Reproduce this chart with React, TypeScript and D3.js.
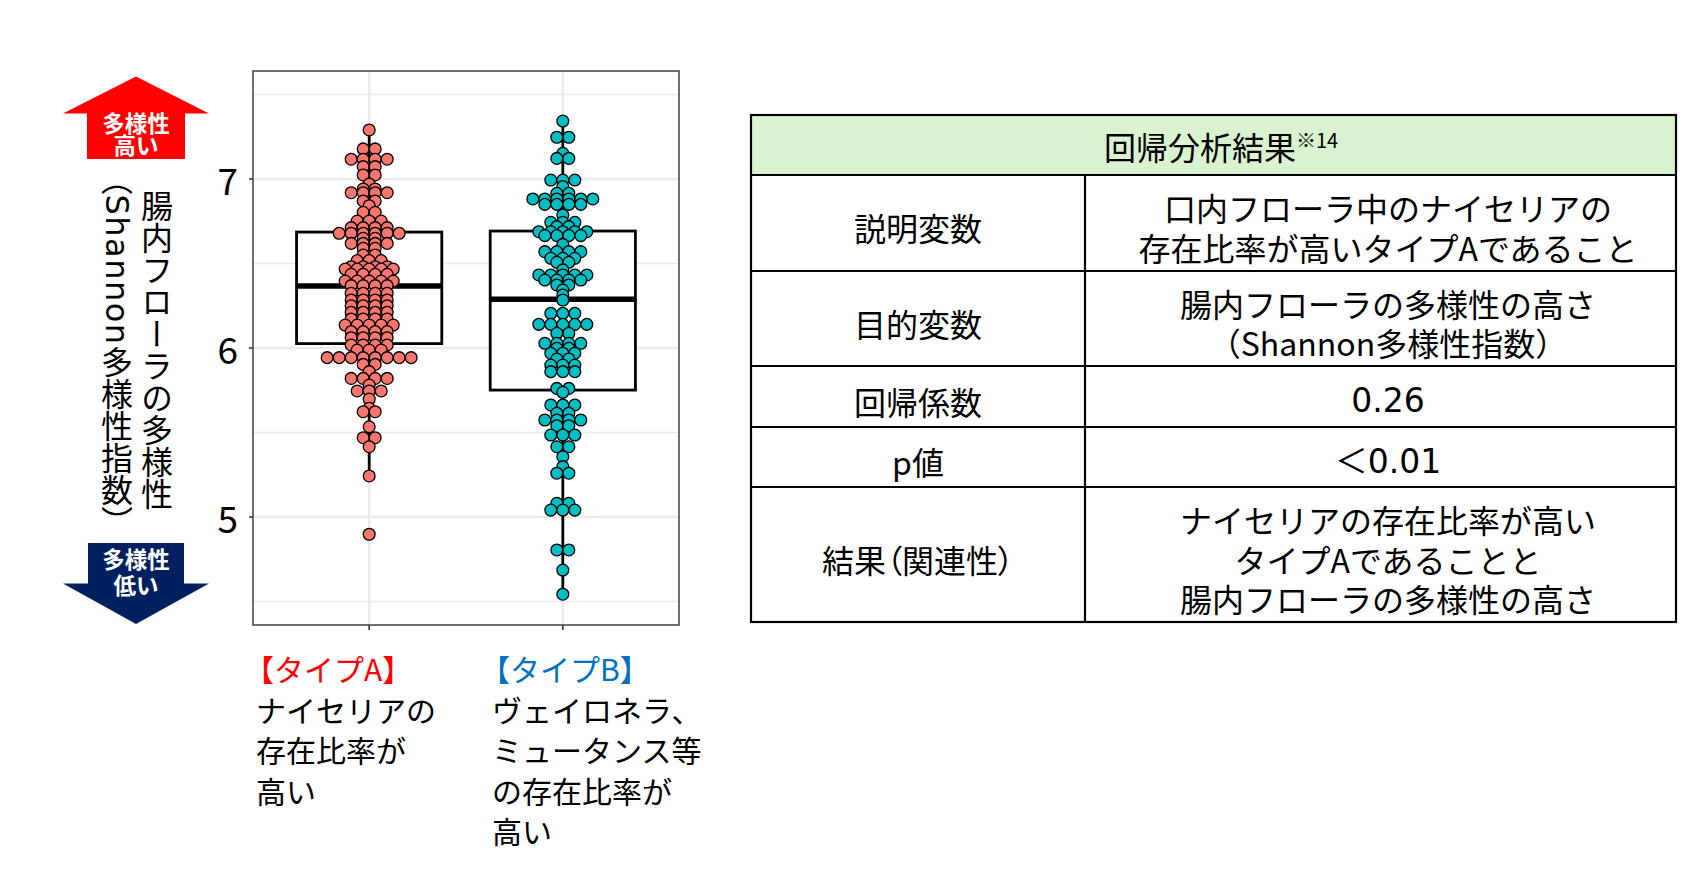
import React from 'react';
import * as d3 from 'd3';

// ---------- data ----------
const categories = ['タイプA', 'タイプB'];

// dot-plot bins (value, number of stacked dots)
const binValuesA = [7.290, 7.178, 7.117, 7.073, 7.024, 6.970, 6.941, 6.919, 6.870, 6.842, 6.803, 6.751, 6.712, 6.679, 6.649, 6.619, 6.590, 6.550, 6.517, 6.481, 6.467, 6.436, 6.396, 6.369, 6.324, 6.284, 6.250, 6.211, 6.172, 6.136, 6.097, 6.061, 6.018, 5.988, 5.943, 5.903, 5.860, 5.820, 5.781, 5.746, 5.698, 5.643, 5.623, 5.534, 5.469, 5.416, 5.243, 4.898];
const binCountsA = [1, 2, 4, 2, 2, 1, 2, 4, 2, 1, 2, 3, 4, 6, 2, 4, 2, 2, 3, 4, 5, 4, 5, 4, 4, 4, 4, 4, 4, 5, 4, 4, 4, 3, 8, 2, 1, 4, 1, 3, 1, 1, 2, 1, 2, 1, 1, 1];

const binValuesB = [7.343, 7.247, 7.152, 7.122, 6.994, 6.955, 6.915, 6.882, 6.850, 6.787, 6.744, 6.718, 6.688, 6.665, 6.613, 6.570, 6.531, 6.507, 6.462, 6.432, 6.402, 6.373, 6.343, 6.314, 6.284, 6.205, 6.140, 6.087, 6.028, 5.998, 5.969, 5.935, 5.899, 5.860, 5.761, 5.738, 5.663, 5.614, 5.574, 5.540, 5.485, 5.416, 5.357, 5.298, 5.259, 5.081, 5.041, 4.805, 4.686, 4.543];
const binCountsB = [1, 2, 1, 2, 3, 1, 2, 6, 4, 1, 3, 2, 5, 4, 1, 4, 3, 2, 1, 5, 4, 2, 1, 1, 1, 3, 5, 2, 4, 2, 3, 2, 3, 3, 2, 1, 3, 2, 4, 2, 3, 2, 1, 1, 2, 2, 3, 2, 1, 1];

// box statistics: [lower whisker, Q1, median, Q3, upper whisker]
const boxStatsA = [5.243, 6.026, 6.367, 6.686, 7.290];
const boxStatsB = [4.543, 5.751, 6.288, 6.692, 7.343];

const yTicks = [5, 6, 7];
const yMinorTicks = [4.5, 5.5, 6.5, 7.5];
const yDomain = [4.361, 7.639];
const binWidth = 0.071;

const groupColors = ['#F8766D', '#00BFC4'];

const axisTitleMain = '腸内フローラの多様性';
const axisTitleSub = ['（', 'Shannon', '多様性指数）'];
const arrowUpText = ['多様性', '高い'];
const arrowDownText = ['多様性', '低い'];

const labelA = ['【タイプA】', 'ナイセリアの', '存在比率が', '高い'];
const labelB = ['【タイプB】', 'ヴェイロネラ、', 'ミュータンス等', 'の存在比率が', '高い'];

const tableTitle = '回帰分析結果';
const tableTitleNote = '※14';
const tableRowLabels = ['説明変数', '目的変数', '回帰係数', 'p値', '結果（関連性）'];
const tableRowValues = [
  ['口内フローラ中のナイセリアの', '存在比率が高いタイプAであること'],
  ['腸内フローラの多様性の高さ', '（Shannon多様性指数）'],
  ['0.26'],
  ['＜0.01'],
  ['ナイセリアの存在比率が高い', 'タイプAであることと', '腸内フローラの多様性の高さ'],
];

// ---------- layout ----------
const W = 1707;
const H = 875;
const panel = { left: 253, right: 679, top: 71, bottom: 625 };
const FONT = '"Noto Sans CJK JP", "Noto Sans", sans-serif';
const LATIN_WIDE = '"DejaVu Sans", "Noto Sans CJK JP", sans-serif';

const table = {
  left: 751,
  right: 1676,
  divider: 1085,
  rows: [115, 175, 271, 366, 427, 487, 622],
};

export default function App() {
  const y = d3.scaleLinear().domain(yDomain).range([panel.bottom, panel.top]);
  const x = d3.scalePoint<string>().domain(categories).range([panel.left, panel.right]).padding(0.6);
  const step = x.step();
  const boxHalf = step * 0.375;
  const dotD = y(0) - y(binWidth);
  const dotR = dotD / 2 - 0.1;

  const groups = [
    { cat: categories[0], values: binValuesA, counts: binCountsA, box: boxStatsA, color: groupColors[0] },
    { cat: categories[1], values: binValuesB, counts: binCountsB, box: boxStatsB, color: groupColors[1] },
  ];

  const rowCenters = table.rows.slice(0, -1).map((r, i) => (r + table.rows[i + 1]) / 2);
  const col1 = (table.left + table.divider) / 2;
  const col2 = 1388;
  const lineH = 39.5;

  return (
    <div style={{ position: 'absolute', left: 0, top: 0, width: W, height: H, overflow: 'hidden', background: '#fff' }}>
      <svg width={W} height={H} style={{ display: 'block', fontFamily: FONT }}>
        {/* panel gridlines */}
        {yMinorTicks.map((t) => (
          <line key={'mn' + t} x1={panel.left} x2={panel.right} y1={y(t)} y2={y(t)} stroke="#EBEBEB" strokeWidth={1.4} />
        ))}
        {yTicks.map((t) => (
          <line key={'mj' + t} x1={panel.left} x2={panel.right} y1={y(t)} y2={y(t)} stroke="#EBEBEB" strokeWidth={2.4} />
        ))}
        {categories.map((c) => (
          <line key={'vx' + c} x1={x(c)} x2={x(c)} y1={panel.top} y2={panel.bottom} stroke="#EBEBEB" strokeWidth={2.4} />
        ))}

        {/* boxplots */}
        {groups.map((g) => {
          const cx = x(g.cat) as number;
          const [lo, q1, med, q3, hi] = g.box;
          return (
            <g key={'box' + g.cat}>
              <line x1={cx} x2={cx} y1={y(q3)} y2={y(hi)} stroke="#000" strokeWidth={2.8} />
              <line x1={cx} x2={cx} y1={y(q1)} y2={y(lo)} stroke="#000" strokeWidth={2.8} />
              <rect x={cx - boxHalf} y={y(q3)} width={boxHalf * 2} height={y(q1) - y(q3)} fill="#fff" stroke="#000" strokeWidth={2.8} />
              <line x1={cx - boxHalf} x2={cx + boxHalf} y1={y(med)} y2={y(med)} stroke="#000" strokeWidth={5.5} />
            </g>
          );
        })}

        {/* dots */}
        {groups.map((g) => {
          const cx = x(g.cat) as number;
          const dots: JSX.Element[] = [];
          g.values.forEach((v, bi) => {
            const n = g.counts[bi];
            for (let i = 0; i < n; i++) {
              dots.push(
                <circle key={g.cat + bi + '_' + i} cx={cx + (i - (n - 1) / 2) * dotD} cy={y(v)} r={dotR} fill={g.color} stroke="#000" strokeWidth={1.3} />
              );
            }
          });
          return <g key={'dots' + g.cat}>{dots}</g>;
        })}

        {/* panel border */}
        <rect x={panel.left} y={panel.top} width={panel.right - panel.left} height={panel.bottom - panel.top} fill="none" stroke="#4D4D4D" strokeWidth={1.6} />

        {/* ticks */}
        {yTicks.map((t) => (
          <g key={'yt' + t}>
            <line x1={panel.left - 4} x2={panel.left} y1={y(t)} y2={y(t)} stroke="#333" strokeWidth={1.6} />
            <text x={238} y={y(t)} textAnchor="end" dominantBaseline="central" fontSize={37} fill="#000">{t}</text>
          </g>
        ))}
        {categories.map((c) => (
          <line key={'xt' + c} x1={x(c)} x2={x(c)} y1={panel.bottom} y2={panel.bottom + 5} stroke="#333" strokeWidth={1.6} />
        ))}

        {/* axis title (vertical writing) */}
        <text x={157} y={350} textAnchor="middle" fontSize={32} style={{ writingMode: 'vertical-rl' } as any}>{axisTitleMain}</text>
        <text x={117} y={350} textAnchor="middle" fontSize={32} style={{ writingMode: 'vertical-rl' } as any}>
          {axisTitleSub[0]}
          <tspan fontFamily={LATIN_WIDE} letterSpacing={1.5}>{axisTitleSub[1]}</tspan>
          {axisTitleSub[2]}
        </text>

        {/* arrows */}
        <path d="M136,76.6 L209,113.6 L185,113.6 L185,159 L87,159 L87,113.6 L63,113.6 Z" fill="#FF0000" />
        {arrowUpText.map((t, i) => (
          <text key={'au' + i} x={136} y={122 + i * 22} textAnchor="middle" dominantBaseline="central" fontSize={22.5} fontWeight="bold" fill="#fff">{t}</text>
        ))}
        <path d="M88,543 L184,543 L184,583.5 L209,583.5 L136,624 L63,583.5 L88,583.5 Z" fill="#002060" />
        {arrowDownText.map((t, i) => (
          <text key={'ad' + i} x={136} y={558 + i * 26} textAnchor="middle" dominantBaseline="central" fontSize={22.5} fontWeight="bold" fill="#fff">{t}</text>
        ))}

        {/* category labels */}
        {labelA.map((t, i) => (
          <text key={'la' + i} x={i === 0 ? 244 : 256} y={668 + i * 40.5} dominantBaseline="central" fontSize={30} fill={i === 0 ? '#FF0000' : '#000'}>{t}</text>
        ))}
        {labelB.map((t, i) => (
          <text key={'lb' + i} x={i === 0 ? 480 : 492} y={668 + i * 40.5} dominantBaseline="central" fontSize={30} fill={i === 0 ? '#0070C0' : '#000'}>{t}</text>
        ))}

        {/* table */}
        <rect x={table.left} y={table.rows[0]} width={table.right - table.left} height={table.rows[1] - table.rows[0]} fill="#D9F2D0" />
        <rect x={table.left} y={table.rows[0]} width={table.right - table.left} height={table.rows[6] - table.rows[0]} fill="none" stroke="#000" strokeWidth={2.2} />
        {table.rows.slice(1, -1).map((r) => (
          <line key={'tr' + r} x1={table.left} x2={table.right} y1={r} y2={r} stroke="#000" strokeWidth={2.2} />
        ))}
        <line x1={table.divider} x2={table.divider} y1={table.rows[1]} y2={table.rows[6]} stroke="#000" strokeWidth={2.2} />
        <text x={1221} y={146} textAnchor="middle" dominantBaseline="central" fontSize={32}>
          {tableTitle}
          <tspan fontSize={20} dy={-7}>{tableTitleNote}</tspan>
        </text>
        {tableRowLabels.map((t, i) => (
          <text key={'tl' + i} x={col1} y={rowCenters[i + 1] + 4} textAnchor="middle" dominantBaseline="central" fontSize={32} style={{ fontFeatureSettings: i === 4 ? '"palt"' : 'normal' }}>{t}</text>
        ))}
        {tableRowValues.map((lines, i) => (
          <g key={'tv' + i}>
            {lines.map((t, j) => (
              <text key={j} x={col2} y={rowCenters[i + 1] + 4 + (j - (lines.length - 1) / 2) * lineH} textAnchor="middle" dominantBaseline="central" fontSize={i === 2 || i === 3 ? 33 : 32} fontFamily={i === 2 || i === 3 ? LATIN_WIDE : undefined}>{t}</text>
            ))}
          </g>
        ))}
      </svg>
    </div>
  );
}
